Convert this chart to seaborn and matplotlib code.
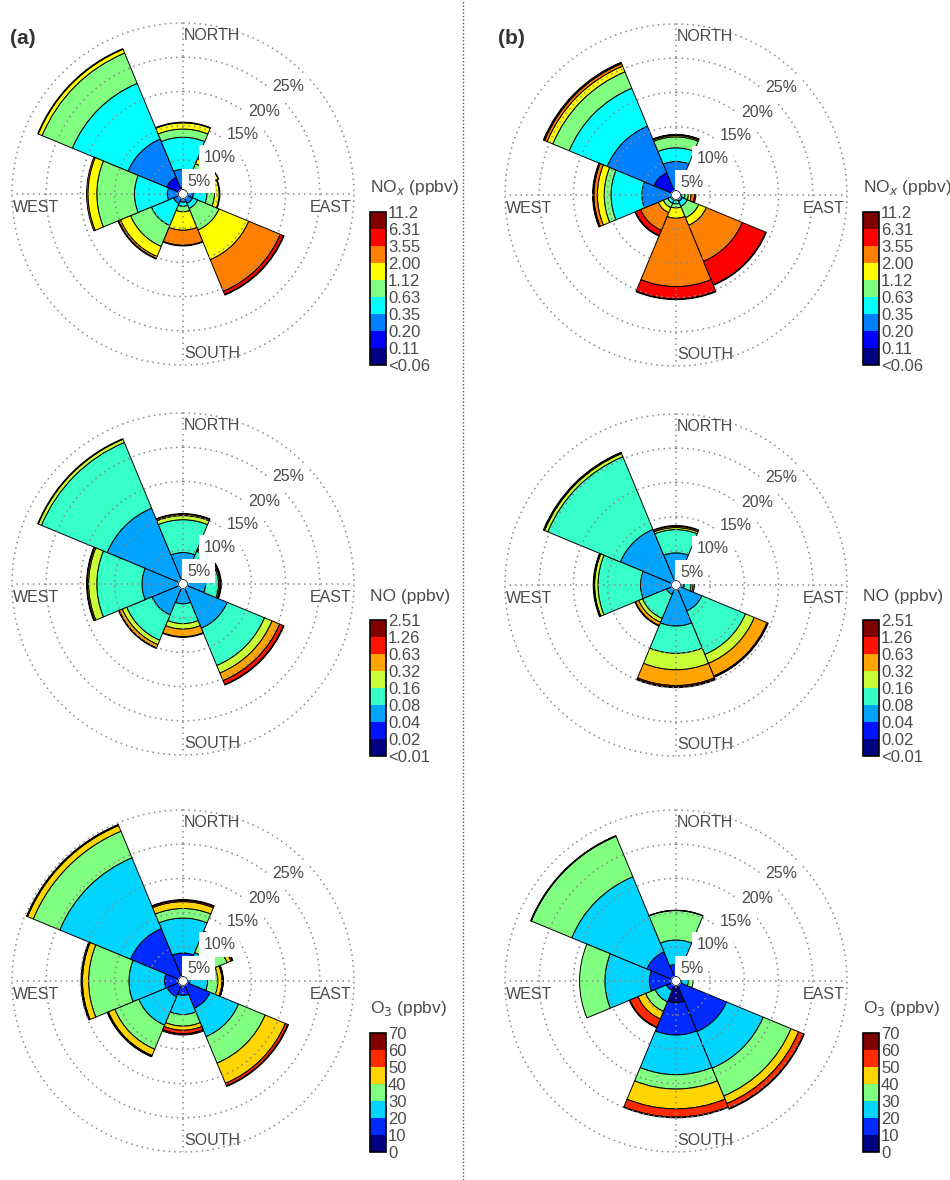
import numpy as np
import matplotlib
matplotlib.use("Agg")
import matplotlib.pyplot as plt
import seaborn as sns
from matplotlib.colors import ListedColormap, BoundaryNorm
from matplotlib.cm import ScalarMappable
from matplotlib.lines import Line2D

sns.set_theme(style="white")
plt.rcParams["font.family"] = ["Liberation Sans", "DejaVu Sans"]

W_PX, H_PX = 950, 1180

# wind sectors (centre direction, degrees clockwise from north)
sectors = ["N", "NE", "E", "SE", "S", "SW", "W", "NW"]
sector_deg = [0, 45, 90, 135, 180, 225, 270, 315]

# colour-bar bin edges
nox_ticks = ["<0.06", "0.11", "0.20", "0.35", "0.63", "1.12", "2.00", "3.55", "6.31", "11.2"]
no_ticks = ["<0.01", "0.02", "0.04", "0.08", "0.16", "0.32", "0.63", "1.26", "2.51"]
o3_ticks = ["0", "10", "20", "30", "40", "50", "60", "70"]

# frequency (%) of each concentration bin, one row per sector (N ... NW)
nox_a = [
    [0.3, 0.7, 2.6, 4.7, 1.2, 0.9, 0.1, 0.0, 0.0],
    [0.3, 0.5, 1.2, 1.5, 1.3, 0.8, 0.05, 0.0, 0.0],
    [0.3, 0.3, 0.9, 2.0, 1.1, 0.7, 0.1, 0.0, 0.0],
    [0.3, 0.3, 0.9, 0.8, 3.4, 4.7, 5.0, 0.5, 0.1],
    [0.3, 0.3, 0.6, 0.6, 0.8, 2.7, 2.2, 0.1, 0.0],
    [0.3, 0.3, 0.9, 3.5, 3.3, 1.6, 0.3, 0.1, 0.0],
    [0.3, 0.3, 1.7, 4.8, 5.5, 1.3, 0.2, 0.0, 0.0],
    [0.3, 2.3, 6.1, 8.8, 4.8, 0.6, 0.1, 0.0, 0.0],
]
nox_b = [
    [0.3, 0.3, 4.3, 2.0, 1.6, 0.2, 0.1, 0.05, 0.0],
    [0.2, 0.2, 0.4, 0.4, 0.3, 0.0, 0.0, 0.0, 0.0],
    [0.2, 0.2, 0.4, 0.5, 0.5, 0.4, 0.5, 0.2, 0.0],
    [0.2, 0.3, 0.5, 0.8, 1.8, 1.2, 5.7, 3.7, 0.1],
    [0.2, 0.2, 0.4, 0.5, 0.6, 1.5, 10.0, 1.8, 0.1],
    [0.2, 0.2, 0.4, 0.5, 0.7, 0.8, 2.8, 0.8, 0.1],
    [0.2, 0.3, 4.5, 4.5, 1.0, 1.0, 0.5, 0.1, 0.1],
    [0.3, 3.2, 7.4, 6.0, 2.6, 0.9, 0.4, 0.1, 0.1],
]
no_a = [
    [0.0, 0.3, 4.3, 4.8, 0.6, 0.2, 0.1, 0.0],
    [0.0, 0.3, 2.2, 2.7, 0.2, 0.1, 0.1, 0.0],
    [0.0, 0.3, 3.0, 1.9, 0.2, 0.1, 0.1, 0.0],
    [0.0, 0.3, 6.7, 5.9, 1.2, 1.2, 0.6, 0.1],
    [0.0, 0.3, 2.6, 2.9, 0.8, 1.1, 0.1, 0.0],
    [0.0, 0.3, 4.6, 4.0, 0.7, 0.5, 0.1, 0.0],
    [0.0, 0.3, 5.7, 6.6, 1.2, 0.2, 0.1, 0.0],
    [0.0, 0.3, 11.7, 10.4, 0.5, 0.1, 0.0, 0.0],
]
no_b = [
    [0.0, 0.2, 4.5, 3.4, 0.3, 0.2, 0.1, 0.0],
    [0.0, 0.2, 0.6, 0.7, 0.0, 0.0, 0.0, 0.0],
    [0.0, 0.2, 1.0, 1.0, 0.3, 0.2, 0.0, 0.0],
    [0.0, 0.2, 3.9, 6.9, 1.4, 2.0, 0.1, 0.1],
    [0.0, 0.2, 5.8, 4.0, 2.4, 2.3, 0.2, 0.1],
    [0.0, 0.2, 1.3, 3.8, 0.6, 0.5, 0.1, 0.0],
    [0.0, 0.2, 5.0, 6.2, 0.5, 0.1, 0.1, 0.0],
    [0.0, 0.2, 8.6, 11.5, 0.5, 0.1, 0.1, 0.0],
]
o3_a = [
    [0.3, 3.8, 5.1, 1.4, 1.0, 0.2, 0.1],
    [0.2, 1.3, 3.0, 2.5, 0.6, 0.2, 0.1],
    [0.2, 0.8, 2.6, 1.5, 0.6, 0.15, 0.05],
    [0.3, 4.0, 4.5, 4.2, 3.2, 0.4, 0.1],
    [0.5, 1.6, 2.8, 1.7, 0.6, 0.5, 0.2],
    [0.3, 2.2, 4.5, 3.8, 1.0, 0.15, 0.05],
    [0.3, 2.4, 5.2, 5.9, 0.9, 0.15, 0.05],
    [0.3, 8.0, 11.2, 4.2, 0.9, 0.1, 0.05],
]
o3_b = [
    [0.3, 2.1, 3.6, 4.3, 0.05, 0.0, 0.0],
    [0.2, 0.8, 0.8, 0.4, 0.0, 0.0, 0.0],
    [0.2, 0.6, 1.0, 0.7, 0.0, 0.0, 0.0],
    [0.3, 7.7, 5.8, 4.4, 1.2, 0.8, 0.1],
    [3.2, 4.7, 5.8, 2.1, 2.9, 1.2, 0.1],
    [0.3, 1.2, 1.8, 1.5, 1.2, 1.3, 0.1],
    [0.3, 3.6, 6.5, 3.7, 0.0, 0.0, 0.0],
    [0.3, 4.3, 11.9, 6.4, 0.05, 0.05, 0.0],
]

ring_values = [5, 10, 15, 20, 25]
ring_labels = ["5%", "10%", "15%", "20%", "25%"]

TEXT_GREY = "#4a4a4a"
GRID_GREY = "#8a8a8a"
R_PX = 171          # pixel radius of the 25 % ring
R_MAX = 25


def jet_colors(n):
    """Classic piecewise-linear jet sampled at n evenly spaced points."""
    x = np.linspace(0, 1, n)
    r = np.clip(np.minimum(4 * x - 1.5, -4 * x + 4.5), 0, 1)
    g = np.clip(np.minimum(4 * x - 0.5, -4 * x + 3.5), 0, 1)
    b = np.clip(np.minimum(4 * x + 0.5, -4 * x + 2.5), 0, 1)
    return sns.color_palette(list(zip(r, g, b)))


def fig_rect(x0, y0, w, h):
    return [x0 / W_PX, 1 - (y0 + h) / H_PX, w / W_PX, h / H_PX]


def polar_text(ax, x, y, s, **kw):
    ax.text(np.arctan2(x, y), np.hypot(x, y), s, **kw)


def wind_rose(fig, cx, cy, freq, colors):
    ax = fig.add_axes(fig_rect(cx - R_PX, cy - R_PX, 2 * R_PX, 2 * R_PX),
                      projection="polar")
    ax.set_theta_zero_location("N")
    ax.set_theta_direction(-1)
    ax.set_ylim(0, R_MAX)
    ax.set_xticks([])
    ax.set_yticks([])
    ax.grid(False)
    ax.spines["polar"].set_visible(False)
    ax.patch.set_alpha(0)

    freq = np.asarray(freq, dtype=float)
    theta = np.deg2rad(sector_deg)
    width = np.deg2rad(45)
    base = np.zeros(len(theta))
    for k in range(freq.shape[1]):
        h = freq[:, k]
        m = h > 0
        if m.any():
            ax.bar(theta[m], h[m], width=width, bottom=base[m], color=colors[k],
                   edgecolor="black", linewidth=0.7, align="center", zorder=2)
        base += h

    # dotted rings and compass axes drawn over the sectors
    t = np.linspace(0, 2 * np.pi, 721)
    dot = (0, (1, 2.6))
    for r in ring_values:
        ax.plot(t, np.full_like(t, r), color=GRID_GREY, lw=1.1, ls=dot,
                zorder=3, clip_on=False)
    for a in (0, 90, 180, 270):
        ax.plot([np.deg2rad(a)] * 2, [0, R_MAX], color=GRID_GREY, lw=1.1, ls=dot,
                zorder=3, clip_on=False)

    # ring labels on white boxes
    lab_xy = [(0.6, 1.9), (3.0, 5.3), (6.4, 8.7), (9.6, 12.1), (13.0, 15.7)]
    for (x, y), s in zip(lab_xy, ring_labels):
        polar_text(ax, x, y, s, ha="left", va="center", fontsize=11.5,
                   color=TEXT_GREY, zorder=4,
                   bbox=dict(boxstyle="square,pad=0.3", fc="white", ec="none"))

    # compass labels
    kw = dict(fontsize=11.5, color=TEXT_GREY, va="center", zorder=4)
    polar_text(ax, 0.15, 23.1, "NORTH", ha="left", **kw)
    polar_text(ax, 0.15, -23.3, "SOUTH", ha="left", **kw)
    polar_text(ax, -24.8, -2.0, "WEST", ha="left", **kw)
    polar_text(ax, 24.7, -2.0, "EAST", ha="right", **kw)

    # white hub
    ax.fill(t, np.full_like(t, 0.65), color="white", zorder=5)
    ax.plot(t, np.full_like(t, 0.65), color="black", lw=0.5, zorder=5)
    return ax


def color_key(fig, x, y_top, colors, ticks, title):
    n = len(colors)
    h = 17.0 * n
    cax = fig.add_axes(fig_rect(x, y_top, 16, h))
    cmap = ListedColormap(colors)
    norm = BoundaryNorm(np.arange(n + 1), n)
    cb = fig.colorbar(ScalarMappable(norm=norm, cmap=cmap), cax=cax,
                      ticks=np.arange(n + 1))
    cb.set_ticklabels(ticks)
    cax.tick_params(length=0, pad=1.5, labelsize=12, labelcolor=TEXT_GREY)
    cb.outline.set_linewidth(1.2)
    cb.outline.set_edgecolor("black")
    fig.text(x / W_PX, 1 - (y_top - 24) / H_PX, title, ha="left", va="center",
             fontsize=12.5, color=TEXT_GREY)


fig = plt.figure(figsize=(W_PX / 100, H_PX / 100), dpi=100)

c_nox = jet_colors(len(nox_ticks) - 1)
c_no = jet_colors(len(no_ticks) - 1)
c_o3 = jet_colors(len(o3_ticks) - 1)

wind_rose(fig, 183, 194, nox_a, c_nox)
wind_rose(fig, 676, 195, nox_b, c_nox)
wind_rose(fig, 183, 584, no_a, c_no)
wind_rose(fig, 676, 585, no_b, c_no)
wind_rose(fig, 183, 981, o3_a, c_o3)
wind_rose(fig, 676, 981, o3_b, c_o3)

for x in (370, 863):
    color_key(fig, x, 212, c_nox, nox_ticks, "NO$_x$ (ppbv)")
    color_key(fig, x, 620, c_no, no_ticks, "NO (ppbv)")
    color_key(fig, x, 1033, c_o3, o3_ticks, "O$_3$ (ppbv)")

fig.text(10 / W_PX, 1 - 39 / H_PX, "(a)", fontsize=15, fontweight="bold",
         color="#333333", ha="left", va="center")
fig.text(498 / W_PX, 1 - 39 / H_PX, "(b)", fontsize=15, fontweight="bold",
         color="#333333", ha="left", va="center")

fig.add_artist(Line2D([463 / W_PX] * 2, [0, 1], transform=fig.transFigure,
                      color="#555555", lw=1.0, ls=(0, (1, 1.5))))

fig.savefig("out.png", dpi=100)
